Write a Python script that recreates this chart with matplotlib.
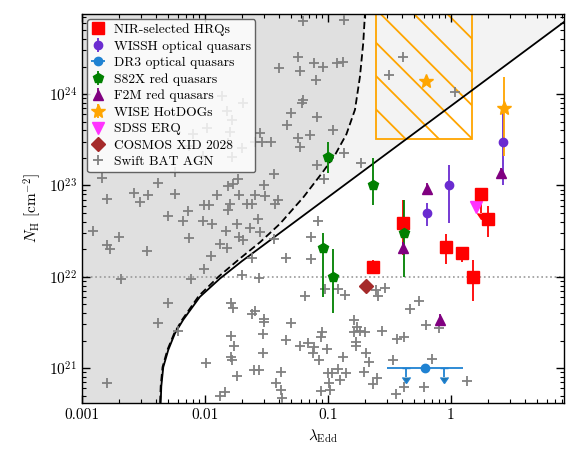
import numpy as np
import matplotlib
matplotlib.use('Agg')
import matplotlib.pyplot as plt
from matplotlib.patches import Rectangle

plt.rcParams['font.family'] = ['cmr10']
plt.rcParams['mathtext.fontset'] = 'cm'
plt.rcParams['axes.formatter.use_mathtext'] = True
plt.rcParams['hatch.linewidth'] = 1.3

# Swift BAT AGN, log10(lambda_Edd) and log10(N_H)
bat_log_ledd = np.array([
    -1.20, -0.87, -1.24, -1.40, -1.23, -1.11, -1.04, -0.93, -0.88, -1.10,
    -1.20, -1.21, -1.30, -1.09, -1.33, -0.96, -1.55, -1.59, -1.54, -1.46,
    -1.24, -1.15, -1.23, -0.87, -0.39, -0.50, 0.03, -1.09, -0.73, -1.03,
    -1.44, -1.52, -1.59, -1.51, -1.66, -1.62, -1.43, -1.41, -1.57, -1.63,
    -1.55, -1.69, -1.44, -1.08, -1.14, -1.34, -1.14, -1.62, -1.70, -1.56,
    -2.84, -2.38, -2.24, -2.58, -2.53, -2.46, -2.24, -2.80, -2.14, -2.30,
    -2.18, -2.02, -1.94, -2.01, -1.97, -1.90, -1.81, -1.77, -1.73, -1.72,
    -1.80, -1.81, -1.74, -1.83, -1.72, -1.88, -1.82, -1.95, -2.01, -2.91,
    -2.70, -2.80, -2.77, -2.47, -2.68, -2.11, -2.13,
    -1.86, -1.69, -1.82, -1.78, -1.98, -1.80, -2.10, -1.81, -2.13, -1.78,
    -2.02, -1.70,
    -2.30, -2.38, -2.22, -1.79, -1.77, -1.62, -1.59, -1.52, -1.52, -1.79,
    -1.76, -1.79, -1.78, -1.53, -1.53, -1.30, -1.19, -1.34, -1.23, -1.16,
    -1.11, -1.12, -1.99, -1.60, -1.56, -1.74, -1.38, -1.42, -1.38, -1.37,
    -1.88, -1.84, -2.80, -1.05, -1.06, -1.07, -1.01, -0.88, -0.79, -0.76,
    -0.74, -0.79, -0.70, -0.77, -0.77, -0.69, -0.67, -0.71, -1.00, -0.97,
    -0.92, -0.85, -0.99, -0.90, -0.98, -1.06, -0.61, -0.59, -0.54, -0.26,
    -0.33, -0.20, -0.10, -0.56, -0.44, -0.38, -0.47, -0.15, 0.13, -0.38,
    -0.22, -0.45, -0.60, -0.63, -1.02, -0.92, -0.86])
bat_log_nh = np.array([
    24.80, 24.81, 24.41, 24.28, 24.25, 24.34, 24.30, 24.34, 24.35, 24.15,
    23.94, 23.90, 23.79, 23.75, 23.66, 23.61, 23.57, 23.48, 23.48, 23.47,
    23.52, 23.55, 23.42, 23.35, 24.41, 24.21, 24.02, 23.22, 23.25, 23.07,
    23.13, 23.00, 22.89, 22.88, 22.80, 22.80, 22.80, 22.84, 22.63, 22.53,
    22.49, 22.40, 22.41, 22.61, 22.44, 22.20, 22.19, 22.20, 22.02, 21.99,
    23.08, 23.03, 23.15, 22.92, 22.82, 22.90, 22.91, 22.85, 22.72, 22.66,
    22.61, 22.61, 22.58, 22.79, 22.79, 22.89, 22.99, 23.02, 23.07, 22.90,
    22.80, 22.73, 22.58, 22.50, 22.43, 22.36, 22.31, 22.23, 22.08, 22.50,
    22.43, 22.35, 22.30, 22.28, 21.97, 21.98, 22.42,
    23.98, 23.90, 23.81, 23.72, 23.63, 23.58, 23.56, 23.46, 23.43, 23.31,
    23.32, 23.41,
    21.71, 21.49, 21.41, 21.71, 21.66, 21.59, 21.62, 21.54, 21.50, 21.35,
    21.24, 21.12, 21.09, 21.37, 21.17, 21.49, 21.79, 21.31, 21.24, 21.27,
    21.23, 21.16, 21.05, 20.98, 20.98, 20.91, 20.96, 20.84, 20.76, 20.67,
    20.69, 20.74, 20.84, 21.40, 21.34, 21.09, 21.21, 21.12, 21.53, 21.45,
    21.41, 21.40, 21.39, 21.28, 21.24, 21.16, 21.07, 20.96, 20.95, 20.95,
    20.99, 20.95, 20.84, 20.87, 20.76, 20.75, 21.86, 21.79, 21.88, 21.73,
    21.65, 21.47, 21.44, 21.41, 21.32, 21.34, 21.09, 21.10, 20.86, 20.79,
    20.79, 20.72, 20.89, 20.83, 21.87, 21.87, 21.80])

# effective Eddington limit curves (log10 lambda, log10 N_H)
solid_log_ledd = [-2.365, -2.360, -2.355, -2.339, -2.298, -2.244, -2.176, -2.041,
                  -1.878, -1.70, -1.40, -1.00, -0.50, 0.00, 0.50, 1.00]
solid_log_nh = [20.50, 20.62, 20.80, 21.01, 21.20, 21.38, 21.53, 21.78,
                21.98, 22.17, 22.47, 22.87, 23.37, 23.87, 24.37, 24.87]
dashed_log_ledd = [-2.370, -2.365, -2.360, -2.345, -2.305, -2.250, -2.185, -2.050,
                   -1.890, -1.715, -1.55, -1.39, -1.20, -1.04, -0.94, -0.85,
                   -0.78, -0.74, -0.713, -0.699, -0.69]
dashed_log_nh = [20.50, 20.62, 20.80, 21.01, 21.20, 21.38, 21.53, 21.79,
                 22.00, 22.20, 22.38, 22.58, 22.87, 23.15, 23.34, 23.56,
                 23.83, 24.19, 24.56, 24.88, 25.00]

# NIR-selected HRQs (the one at 1.76 is an upper limit)
hrq_ledd = [0.405, 0.233, 0.92, 1.23, 1.52, 2.0]
hrq_nh = [3.85e22, 1.29e22, 2.09e22, 1.82e22, 1.0e22, 4.27e22]
hrq_nh_lo = [1.74e22, 1.07e22, 1.38e22, 1.45e22, 5.4e21, 2.75e22]
hrq_nh_hi = [6.9e22, 1.51e22, 2.9e22, 2.14e22, 1.51e22, 5.9e22]
hrq_lim_ledd = [1.76]
hrq_lim_nh = [8.1e22]
hrq_lim_lo = [5.0e22]

# WISSH optical quasars
wissh_ledd = [0.634, 0.97, 2.66]
wissh_nh = [4.94e22, 1.02e23, 3.02e23]
wissh_nh_lo = [3.59e22, 3.89e22, 1.0e23]
wissh_nh_hi = [6.46e22, 1.66e23, 6.46e23]

# DR3 optical quasars (stack with upper limits)
dr3_ledd = [0.615]
dr3_ledd_lo = [0.30]
dr3_ledd_hi = [1.26]
dr3_nh = [1.0e21]
dr3_lim_ledd = [0.43, 0.877]
dr3_lim_nh = [7.9e20, 7.9e20]

# S82X red quasars
s82x_ledd = [0.1, 0.233, 0.0905, 0.110, 0.415]
s82x_nh = [2.04e23, 1.0e23, 2.04e22, 1.0e22, 2.99e22]
s82x_nh_lo = [1.38e23, 6.1e22, 6.0e21, 4.0e21, 1.0e22]
s82x_nh_hi = [3.02e23, 2.0e23, 2.99e22, 2.0e22, 6.9e22]

# F2M red quasars
f2m_ledd = [0.641, 0.405, 2.55, 0.814]
f2m_nh = [9.1e22, 2.07e22, 1.35e23, 3.39e21]
f2m_nh_lo = [7.9e22, 1.8e22, 1.17e23, 2.95e21]
f2m_nh_hi = [1.05e23, 2.38e22, 1.55e23, 3.9e21]

# WISE HotDOGs
hotdog_ledd = [0.626, 2.70]
hotdog_nh = [1.38e24, 7.1e23]
hotdog_nh_lo = [1.38e24, 2.1e23]
hotdog_nh_hi = [1.38e24, 1.55e24]
hotdog_box_ledd = [0.245, 1.48]
hotdog_box_nh = [3.2e23, 1.0e25]

# SDSS ERQ and COSMOS XID 2028
erq_ledd, erq_nh = [1.59], [5.75e22]
xid_ledd, xid_nh = [0.202], [7.9e21]

xmin, xmax = 1e-3, 8.3
ymin, ymax = 4.14e20, 7.53e24


def yerr(nh, lo, hi):
    nh, lo, hi = np.array(nh), np.array(lo), np.array(hi)
    return [nh - lo, hi - nh]


fig = plt.figure(figsize=(5.81, 4.65), dpi=100)
ax = fig.add_axes([0.1411, 0.1333, 0.8296, 0.8366])
ax.set_xscale('log')
ax.set_yscale('log')

# shaded regions
sx = 10**np.array(solid_log_ledd)
sy = 10**np.array(solid_log_nh)
dx = 10**np.array(dashed_log_ledd)
dy = 10**np.array(dashed_log_nh)
ax.fill(np.r_[5e-4, sx, 20, 5e-4], np.r_[1e20, sy, 1e26, 1e26],
        color='#f3f3f3', lw=0, zorder=0)
ax.fill(np.r_[5e-4, dx, 5e-4], np.r_[1e20, dy, 1e26],
        color='#e0e0e0', lw=0, zorder=0.5)

# HotDOG range box
box = Rectangle((hotdog_box_ledd[0], hotdog_box_nh[0]),
                hotdog_box_ledd[1] - hotdog_box_ledd[0],
                hotdog_box_nh[1] - hotdog_box_nh[0],
                facecolor='none', edgecolor='orange', hatch='\\', lw=1.3, zorder=1)
ax.add_patch(box)

ax.axhline(1e22, color='#999999', ls=':', lw=1.2, zorder=1)
ax.plot(sx, sy, color='k', lw=1.3, zorder=2)
ax.plot(dx, dy, color='k', lw=1.3, ls=(0, (4, 2)), zorder=2)

ekw = dict(elinewidth=1.3, capsize=0, zorder=6)
h_hrq = ax.errorbar(hrq_ledd, hrq_nh, yerr=yerr(hrq_nh, hrq_nh_lo, hrq_nh_hi),
                    fmt='s', color='red', ms=8, **ekw)
ax.errorbar(hrq_lim_ledd, hrq_lim_nh, yerr=yerr(hrq_lim_nh, hrq_lim_lo, hrq_lim_nh),
            uplims=True, fmt='s', color='red', ms=8, **ekw)
h_wissh = ax.errorbar(wissh_ledd, wissh_nh, yerr=yerr(wissh_nh, wissh_nh_lo, wissh_nh_hi),
                      fmt='o', color='#6a2bd0', ms=6, **ekw)
h_dr3 = ax.errorbar(dr3_ledd, dr3_nh,
                    xerr=[np.array(dr3_ledd) - dr3_ledd_lo, np.array(dr3_ledd_hi) - dr3_ledd],
                    fmt='o', color='#1f82d2', ms=6, **ekw)
ax.errorbar(dr3_lim_ledd, [dr3_nh[0]] * 2,
            yerr=[np.array([dr3_nh[0]] * 2) - dr3_lim_nh, [0, 0]],
            uplims=True, fmt='none', ecolor='#1f82d2', elinewidth=1.3,
            capsize=2.8, zorder=6)
h_s82x = ax.errorbar(s82x_ledd, s82x_nh, yerr=yerr(s82x_nh, s82x_nh_lo, s82x_nh_hi),
                     fmt='p', color='green', ms=7.5, **ekw)
h_f2m = ax.errorbar(f2m_ledd, f2m_nh, yerr=yerr(f2m_nh, f2m_nh_lo, f2m_nh_hi),
                    fmt='^', color='purple', ms=7.5, **ekw)
h_hotdog = ax.errorbar(hotdog_ledd, hotdog_nh, yerr=yerr(hotdog_nh, hotdog_nh_lo, hotdog_nh_hi),
                       fmt='*', color='orange', ms=10, **ekw)
h_erq, = ax.plot(erq_ledd, erq_nh, 'v', color='#ff33ff', ms=8, zorder=6)
h_xid, = ax.plot(xid_ledd, xid_nh, 'D', color='#a52a2a', ms=7.5, zorder=6)
h_bat, = ax.plot(10**bat_log_ledd, 10**bat_log_nh, '+', color='gray',
                 ms=7, mew=1.3, zorder=3)

ax.set_xlim(xmin, xmax)
ax.set_ylim(ymin, ymax)
ax.set_xticks([0.001, 0.01, 0.1, 1], labels=['0.001', '0.01', '0.1', '1'])
ax.tick_params(which='both', direction='in', top=True, right=True, labelsize=11)
ax.tick_params(which='major', length=6, width=1.0)
ax.tick_params(which='minor', length=3, width=0.8)
for sp in ax.spines.values():
    sp.set_linewidth(1.0)

ax.set_xlabel(r'$\lambda_{\rm Edd}$', fontsize=11)
ax.set_ylabel(r'$N_{\rm H}$ [cm$^{-2}$]', fontsize=11)

leg = ax.legend([h_hrq, h_wissh, h_dr3, h_s82x, h_f2m, h_hotdog, h_erq, h_xid, h_bat],
                ['NIR-selected HRQs', 'WISSH optical quasars', 'DR3 optical quasars',
                 'S82X red quasars', 'F2M red quasars', 'WISE HotDOGs', 'SDSS ERQ',
                 'COSMOS XID 2028', 'Swift BAT AGN'],
                loc='upper left', fontsize=9.7, labelspacing=0.30, handlelength=1.0,
                handletextpad=0.7, borderpad=0.3, borderaxespad=0.4,
                framealpha=0.82, edgecolor='#444444', fancybox=True)
leg.set_zorder(10)

fig.savefig('out.png', dpi=100)
